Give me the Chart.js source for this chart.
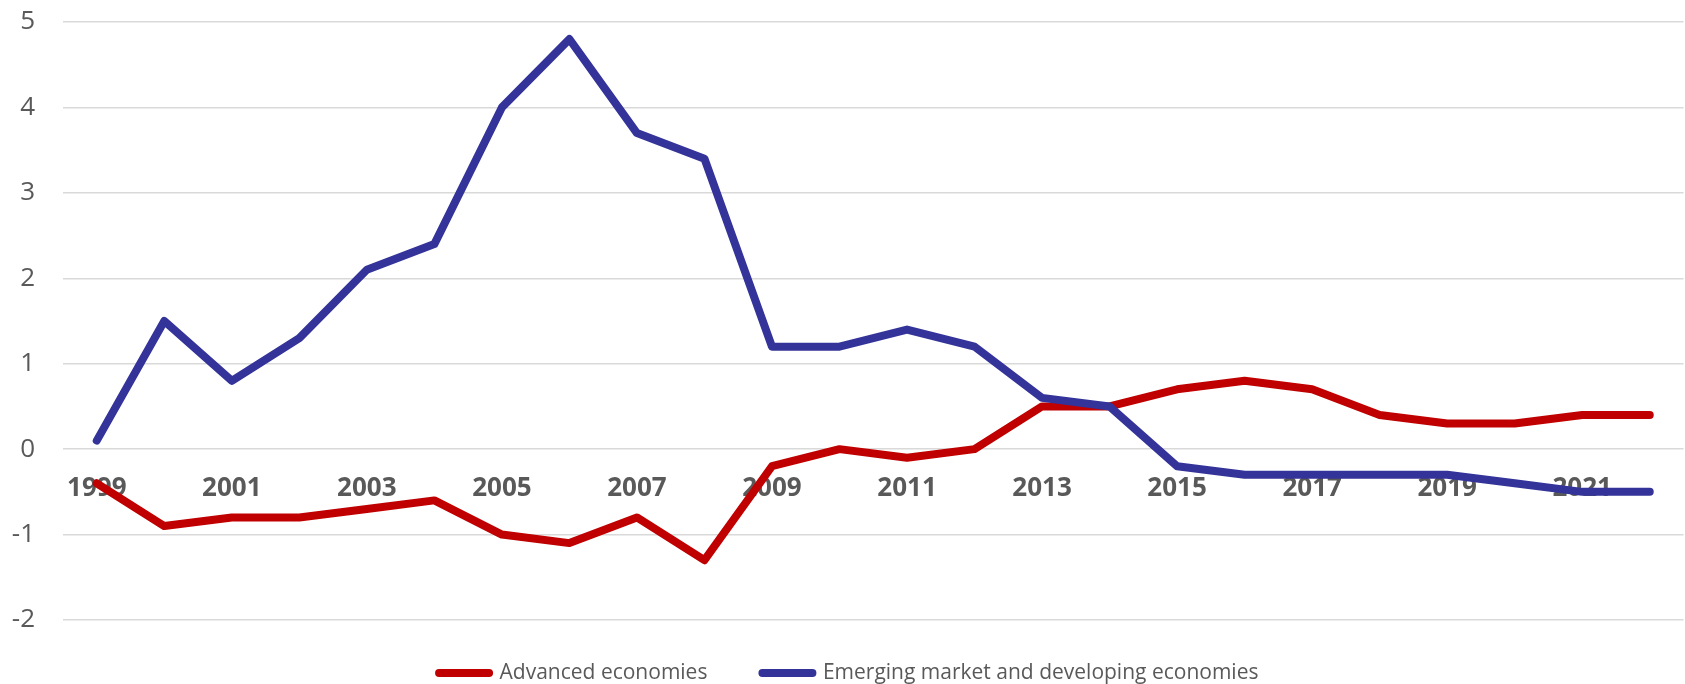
<!DOCTYPE html>
<html>
<head>
<meta charset="utf-8">
<script src="https://cdn.jsdelivr.net/npm/chart.js@4"></script>
<style>
  html, body { margin: 0; padding: 0; background: #ffffff; }
  #wrap { width: 1685px; height: 684px; position: relative; }
</style>
</head>
<body>
<div id="wrap"><canvas id="c" width="1685" height="684"></canvas></div>
<script>
const years = ['1999','2000','2001','2002','2003','2004','2005','2006','2007','2008','2009','2010',
               '2011','2012','2013','2014','2015','2016','2017','2018','2019','2020','2021','2022'];
const advanced = [-0.4,-0.9,-0.8,-0.8,-0.7,-0.6,-1.0,-1.1,-0.8,-1.3,-0.2,0.0,
                  -0.1,0.0,0.5,0.5,0.7,0.8,0.7,0.4,0.3,0.3,0.4,0.4];
const emerging = [0.1,1.5,0.8,1.3,2.1,2.4,4.0,4.8,3.7,3.4,1.2,1.2,
                  1.4,1.2,0.6,0.5,-0.2,-0.3,-0.3,-0.3,-0.3,-0.4,-0.5,-0.5];
const seriesNames = ['Advanced economies', 'Emerging market and developing economies'];
const yTicks = [-2,-1,0,1,2,3,4,5];

const FONT = "'Open Sans', 'Noto Sans', sans-serif";
const GREY = '#595959';

// fine placement of the legend row (horizontal centre and vertical offset)
const legendShift = {
  id: 'legendShift',
  afterLayout(chart) {
    const lg = chart.legend;
    if (lg) {
      lg.left += 7; lg.right += 7;
      lg.top -= 12.5; lg.bottom -= 12.5;
    }
  }
};

new Chart(document.getElementById('c'), {
  type: 'line',
  data: {
    labels: years,
    datasets: [
      { label: seriesNames[0], data: advanced, borderColor: '#C00000', backgroundColor: '#C00000',
        borderWidth: 8, pointRadius: 0, tension: 0, borderCapStyle: 'round', borderJoinStyle: 'round', order: 2 },
      { label: seriesNames[1], data: emerging, borderColor: '#333399', backgroundColor: '#333399',
        borderWidth: 8, pointRadius: 0, tension: 0, borderCapStyle: 'round', borderJoinStyle: 'round', order: 1 }
    ]
  },
  options: {
    responsive: false,
    animation: false,
    devicePixelRatio: 1,
    layout: { padding: { top: 0, right: 1.5, bottom: -22, left: 0 } },
    plugins: {
      tooltip: { enabled: false },
      legend: {
        position: 'bottom',
        labels: {
          font: { family: FONT, size: 21 },
          color: GREY,
          boxWidth: 50,
          boxHeight: 0,
          padding: 55,
          sort: (a, b) => a.datasetIndex - b.datasetIndex
        }
      }
    },
    scales: {
      x: {
        type: 'category',
        offset: true,
        position: { y: 0 },
        z: 1,
        grid: { display: false, drawTicks: false },
        border: { display: false },
        ticks: {
          autoSkip: false,
          maxRotation: 0,
          padding: 24,
          color: GREY,
          font: { family: FONT, size: 26, weight: 'bold' },
          callback: function(v, i) { return i % 2 === 0 ? years[i] : ''; }
        }
      },
      y: {
        min: yTicks[0],
        max: yTicks[yTicks.length - 1],
        afterFit: s => { s.width = 63; },
        afterBuildTicks: s => { s.ticks = yTicks.map(v => ({ value: v })); },
        grid: { color: '#D9D9D9', lineWidth: 1.5, drawTicks: true, tickLength: 21.6, tickColor: 'rgba(0,0,0,0)' },
        border: { display: false },
        ticks: {
          padding: 6.4,
          color: GREY,
          font: { family: FONT, size: 26 }
        }
      }
    }
  },
  plugins: [legendShift]
});
</script>
</body>
</html>
